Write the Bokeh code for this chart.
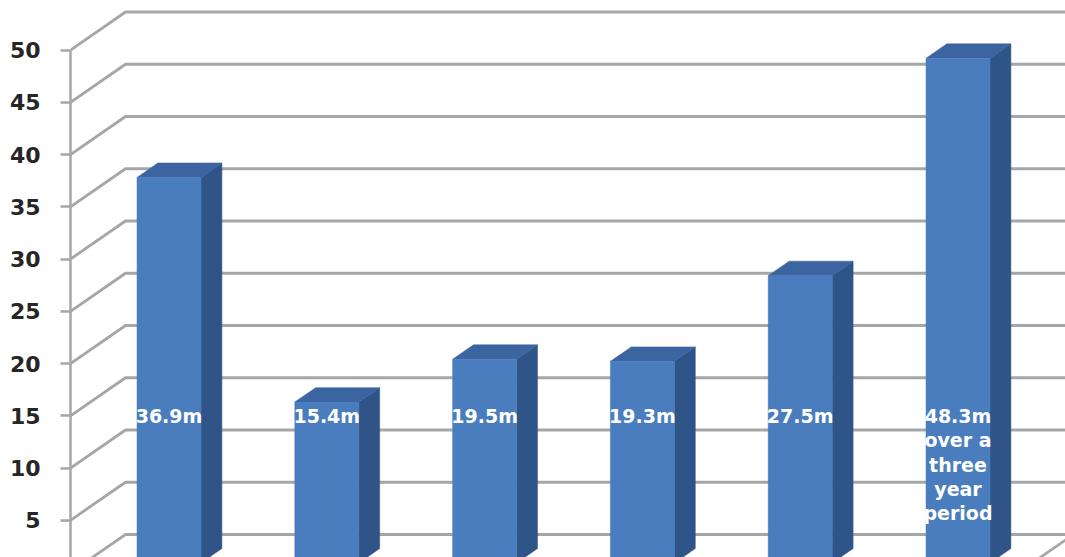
import numpy as np
from bokeh.plotting import figure
from bokeh.models import Range1d, FixedTicker, ColumnDataSource
from bokeh.embed import file_html
from bokeh.resources import INLINE
from bokeh.core.properties import value

# ---- data ----
values = [36.9, 15.4, 19.5, 19.3, 27.5, 48.3]
labels = ["36.9m", "15.4m", "19.5m", "19.3m", "27.5m",
          "48.3m\nover a\nthree\nyear\nperiod"]
y_ticks = [0, 5, 10, 15, 20, 25, 30, 35, 40, 45, 50]

# ---- 3D oblique geometry (styles) ----
PX_CAT = 157.8      # pixels per category step
PX_UNIT = 10.45     # pixels per value unit
DX = 55 / PX_CAT    # wall depth in x (category units)
DY = 38 / PX_UNIT   # wall depth in y (value units)
F0, F1 = 0.25, 0.63 # bar front/back position within depth
HW = 32 / PX_CAT    # half bar width
X_START = (70 - 168.5) / PX_CAT
X_END = (1065 - 168.5) / PX_CAT
FLOOR_RIGHT = (1018 - 168.5) / PX_CAT
LABEL_Y = 16.0

FRONT = "#4a7dbd"
SIDE = "#2f5588"
TOP = "#3b64a0"
GRID = "#a6a6a6"

p = figure(width=1065, height=557, output_backend="svg", toolbar_location=None,
           x_range=Range1d(X_START, X_END),
           y_range=Range1d(15 / PX_UNIT, 572 / PX_UNIT),
           x_axis_location=None,
           min_border_left=70, min_border_right=0,
           min_border_top=0, min_border_bottom=0)
p.outline_line_color = None
p.xgrid.grid_line_color = None
p.ygrid.grid_line_color = None
p.background_fill_color = "white"
p.border_fill_color = "white"

ax = p.yaxis[0]
ax.ticker = FixedTicker(ticks=y_ticks)
ax.bounds = (0, 50)
ax.axis_line_color = GRID
ax.axis_line_width = 2.5
ax.major_tick_line_color = GRID
ax.major_tick_line_width = 2.5
ax.major_tick_out = 10
ax.major_tick_in = 0
ax.minor_tick_out = 0
ax.minor_tick_in = 0
ax.major_label_text_font = "DejaVu Sans"
ax.major_label_text_font_style = "bold"
ax.major_label_text_font_size = "22px"
ax.major_label_text_color = "#262626"
ax.major_label_standoff = 20

# ---- back wall gridlines with left-wall diagonals ----
gx, gy = [], []
for t in y_ticks:
    gx.append([X_START, X_START + DX, FLOOR_RIGHT + DX])
    gy.append([t, t + DY, t + DY])
p.multi_line(gx, gy, line_color=GRID, line_width=2.8)
# floor right edge
p.line([FLOOR_RIGHT, FLOOR_RIGHT + DX], [0, DY], line_color=GRID, line_width=2.8)

# ---- 3D bars ----
v = np.array(values)
xc = np.arange(len(values), dtype=float)
y0 = F0 * DY
ddx = (F1 - F0) * DX
ddy = (F1 - F0) * DY

side_xs, side_ys, top_xs, top_ys = [], [], [], []
for x, h in zip(xc, v):
    side_xs.append([x + HW, x + HW, x + HW + ddx, x + HW + ddx])
    side_ys.append([y0, h + y0, h + y0 + ddy, y0 + ddy])
    top_xs.append([x - HW, x + HW, x + HW + ddx, x - HW + ddx])
    top_ys.append([h + y0, h + y0, h + y0 + ddy, h + y0 + ddy])

p.patches(side_xs, side_ys, fill_color=SIDE, line_color=SIDE, line_width=0.5)
p.patches(top_xs, top_ys, fill_color=TOP, line_color=TOP, line_width=0.5)
p.quad(left=xc - HW, right=xc + HW, bottom=y0, top=v + y0,
       fill_color=FRONT, line_color=FRONT, line_width=0.5)

# ---- labels ----
src = ColumnDataSource(dict(x=xc, y=[LABEL_Y] * len(values), t=labels))
p.text(x="x", y="y", text="t", source=src,
       text_font=value("DejaVu Sans"), text_font_style="bold",
       text_font_size="19px", text_color="white",
       text_align="center", text_baseline="top", text_line_height=1.1)

open("out.html", "w").write(file_html(p, INLINE))
